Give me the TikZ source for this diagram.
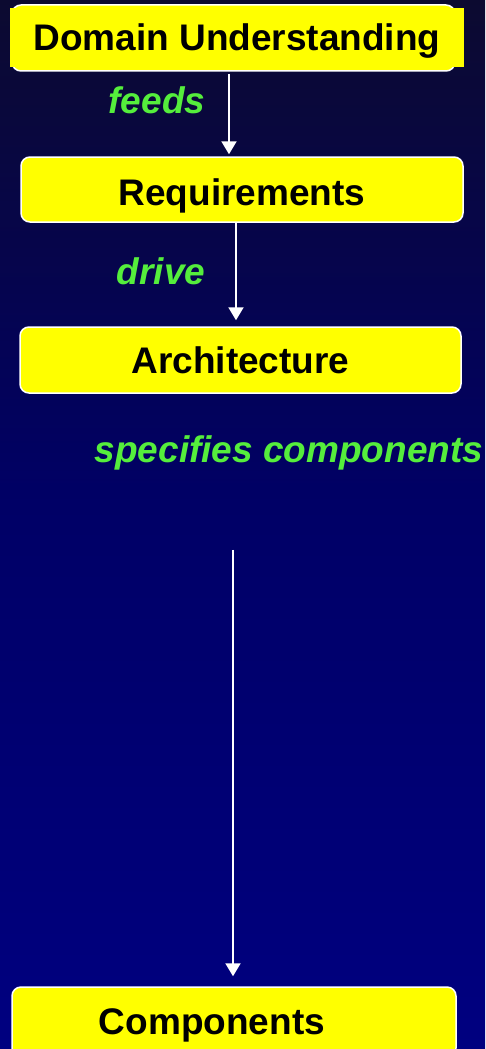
\documentclass[tikz,border=0pt]{standalone}
\usepackage{fontspec}
\setmainfont{Liberation Sans}
\usetikzlibrary{arrows.meta}

\definecolor{bgtop}{RGB}{12,10,48}
\definecolor{bgmid}{RGB}{0,0,102}
\definecolor{bgbot}{RGB}{0,0,128}
\definecolor{boxyellow}{RGB}{255,255,0}
\definecolor{labelgreen}{RGB}{85,238,60}

% background: dark at the top, navy at the bottom
% (the band 25bp..75bp is stretched over the filled path)
\pgfdeclareverticalshading{nightsky}{100bp}{%
  color(0bp)=(bgbot); color(25bp)=(bgbot); color(51bp)=(bgmid);
  color(75bp)=(bgtop); color(100bp)=(bgtop)}

\tikzset{
  x=1pt, y=-1pt,
  stagebox/.style={draw=white, line width=1.5pt, fill=boxyellow,
    rounded corners=9pt, inner sep=0pt,
    font=\fontsize{37}{44}\bfseries\selectfont, text=black,
    text height=26.5pt, text depth=0pt},
  flowlabel/.style={anchor=base, inner sep=0pt, text=labelgreen,
    font=\fontsize{37}{44}\bfseries\itshape\selectfont},
  flow/.style={draw=white, line width=2pt,
    -{Triangle[width=15pt, length=13pt]}, fill=white},
}

\begin{document}
\begin{tikzpicture}
  \useasboundingbox (0,0) rectangle (485,1049);
  \fill[shading=nightsky] (0,0) rectangle (485,1049);

  % Domain Understanding: rounded frame with a plain yellow label laid over it
  \node[stagebox, minimum width=443pt, minimum height=66pt] (domframe) at (233.5,38) {};
  \node[fill=boxyellow, inner sep=0pt, minimum width=454pt, minimum height=59pt,
        font=\fontsize{37}{44}\bfseries\selectfont, text=black,
        text height=26.5pt, text depth=0pt] (dom) at (237,37.5) {Domain Understanding};

  \node[stagebox, minimum width=442pt, minimum height=65pt, text height=32.5pt]
    (req) at (242,189.5) {Requirements};
  \node[stagebox, minimum width=441pt, minimum height=66pt]
    (arch) at (240.5,360) {Architecture};
  \node[stagebox, minimum width=444pt, minimum height=70pt, text height=25.5pt]
    (comp) at (234,1022) {Components\kern44pt};

  % connectors
  \draw[flow, shorten <=2pt, shorten >=2pt]
    ([xshift=-4.5pt]domframe.south) -- ([xshift=-13pt]req.north);
  \draw[flow, shorten >=6pt]
    ([xshift=-6pt]req.south) -- ([xshift=-4.5pt]arch.north);
  \draw[flow, shorten <=156pt, shorten >=10pt]
    ([xshift=-7.5pt]arch.south) -- ([xshift=-1pt]comp.north);

  % connector labels
  \node[flowlabel] (feeds) at (157,113) {feeds};
  \node[flowlabel] (drive) at (161,284) {drive};
  \node[flowlabel] (spec) at (289,462) {specifies components};
\end{tikzpicture}
\end{document}
